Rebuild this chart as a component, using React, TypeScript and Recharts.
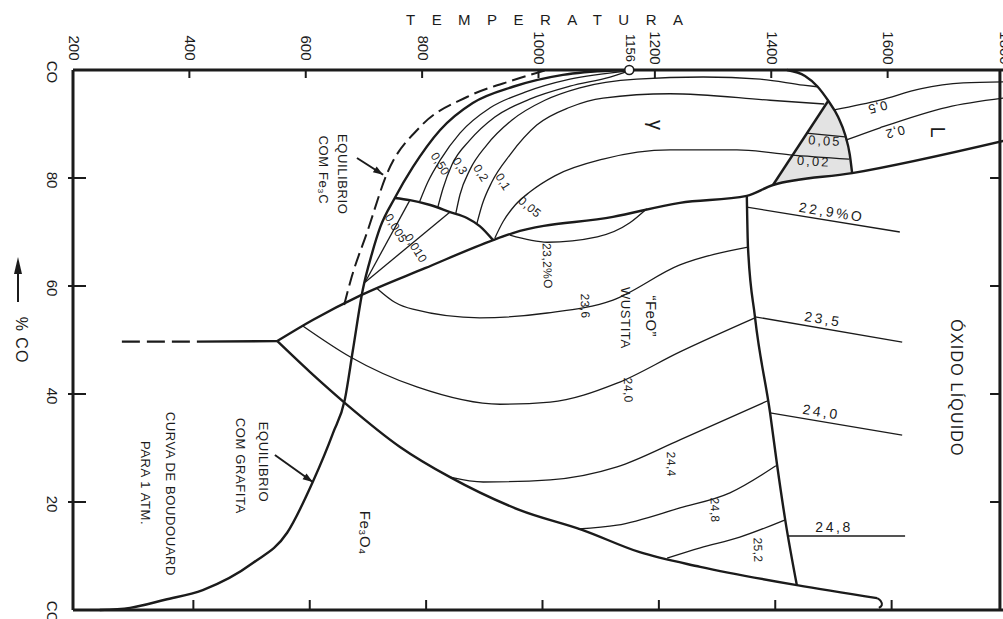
import React from 'react';
import {
  ComposedChart, Line, Area, Scatter, XAxis, YAxis, ReferenceLine, ReferenceDot,
} from 'recharts';

// x = temperature (°C), y = % CO in the CO/CO2 gas
type P = { t: number; co: number };
const pts = (rows: number[][]): P[] => rows.map(([t, co]) => ({ t, co }));

const TOP_TICKS = [200, 400, 600, 800, 1000, 1156, 1200, 1400, 1600, 1800];
const BOTTOM_TICKS = [200, 400, 600, 800, 1000, 1200, 1400, 1600, 1800];
const Y_TICKS = [0, 20, 40, 60, 80, 100];
const RIGHT_TICKS = [20, 40, 60, 80];
const FRAME_RIGHT_T = 1793;
const POINT_1156 = { t: 1156, co: 100 };

// phase boundaries
const BOUDOUARD = pts([[246, 0], [298, 0.4], [358, 1.9], [423, 3.7], [509, 8.7], [568, 14.3], [612, 23.7], [647, 32.8], [667, 38.9], [681, 48.1], [698, 59.3], [714, 66.1], [728, 70.9], [753, 76.3], [784, 82.0], [831, 88.9], [887, 93.9], [956, 96.9], [1042, 99.1], [1128, 99.9], [1156, 100]]);
const FE3C_EQ = pts([[666, 56.5], [679, 61.7], [705, 69.8], [740, 80.9], [796, 89.4], [877, 95.0], [956, 98.1], [1011, 99.9]]);
const FE_FEO = pts([[551, 49.8], [612, 53.7], [695, 58.3], [805, 63.3], [922, 68.5], [956, 69.8], [1128, 72.8], [1243, 75.4], [1358, 76.7], [1403, 78.7], [1539, 80.9], [1800, 86.9]]);
const FE3O4_FEO = pts([[551, 49.8], [607, 44.1], [671, 38.0], [762, 30.2], [848, 24.6], [968, 18.5], [1076, 14.8], [1174, 10.7], [1278, 8.0], [1444, 4.6], [1582, 2.2]]);
const FE3O4_HOOK = pts([[1582, 2.2], [1588, 1.7], [1590, 0.9], [1585, 0.4]]);
const FE3O4_FE = pts([[413, 49.7], [551, 49.8]]);
const FE3O4_FE_EXT = pts([[284, 49.7], [413, 49.7]]);
const FEO_LIQ_OXIDE = pts([[1358, 76.7], [1360, 67.2], [1372, 54.3], [1398, 36.5], [1410, 26.9], [1424, 16.7], [1444, 4.6]]);
const ALPHA_GAMMA = pts([[753, 76.3], [779, 75.9], [814, 75.0], [848, 73.7], [877, 72.6], [899, 71.1], [922, 68.5]]);
const GAMMA_DELTA = pts([[1403, 78.7], [1498, 94.3]]);
const LIQUID_EDGE = pts([[1427, 100], [1458, 98.9], [1479, 97.0], [1498, 94.3], [1515, 91.3], [1527, 88.0], [1535, 84.3], [1539, 80.9]]);
const DELTA_AREA = [
  { t: 1403, range: [78.7, 78.7] }, { t: 1432, range: [79.2, 83.5] }, { t: 1467, range: [79.7, 89.2] },
  { t: 1498, range: [80.3, 94.3] }, { t: 1515, range: [80.5, 91.3] }, { t: 1527, range: [80.7, 88.0] },
  { t: 1535, range: [80.9, 84.3] }, { t: 1539, range: [80.9, 80.9] },
];

// % C iso-lines in alpha / gamma / delta / liquid iron
const ALPHA_005 = pts([[702, 60.7], [779, 75.9]]);
const ALPHA_010 = pts([[702, 60.7], [848, 73.7]]);
const GAMMA_050 = pts([[796, 75.7], [810, 79.3], [831, 83.3], [865, 88.3], [917, 93.0], [977, 95.9], [1054, 98.3], [1152, 99.8]]);
const GAMMA_03 = pts([[827, 74.6], [836, 78.1], [851, 82.4], [882, 87.0], [925, 91.3], [985, 94.6], [1054, 97.0], [1123, 98.7], [1152, 99.7]]);
const GAMMA_02 = pts([[858, 73.5], [865, 76.9], [882, 81.5], [911, 86.1], [954, 90.7], [1011, 94.4], [1071, 96.7], [1169, 98.3], [1283, 98.7], [1381, 98.3], [1455, 97.2], [1479, 96.9]]);
const GAMMA_01 = pts([[894, 71.5], [903, 75.0], [920, 79.3], [951, 84.3], [997, 89.8], [1054, 93.1], [1111, 94.8], [1226, 95.6], [1398, 94.4], [1491, 93.7]]);
const GAMMA_005 = pts([[925, 68.9], [939, 71.9], [960, 75.0], [985, 77.4], [1028, 80.4], [1111, 83.5], [1226, 85.2], [1341, 85.2], [1432, 84.3], [1534, 83.5]]);
const DELTA_005 = pts([[1460, 88.3], [1527, 87.6]]);
const LIQ_05 = pts([[1508, 92.6], [1587, 94.4], [1656, 96.5], [1730, 97.6], [1800, 97.8]]);
const LIQ_02 = pts([[1528, 87.0], [1587, 89.3], [1702, 93.1], [1800, 94.8]]);

// % O iso-lines in wustite and in liquid oxide
const WUS_232 = pts([[951, 69.4], [1015, 68.1], [1101, 69.1], [1157, 71.7], [1186, 74.3]]);
const WUS_236 = pts([[722, 59.6], [753, 57.0], [784, 55.7], [899, 54.1], [1015, 55.0], [1128, 57.4], [1243, 63.9], [1360, 67.2]]);
const WUS_240 = pts([[595, 52.6], [676, 46.9], [791, 41.3], [934, 38.1], [1020, 38.5], [1135, 42.0], [1243, 47.8], [1372, 54.1]]);
const WUS_244 = pts([[848, 24.6], [905, 23.7], [1020, 24.1], [1135, 26.5], [1243, 31.5], [1393, 38.7]]);
const WUS_248 = pts([[1068, 15.0], [1135, 15.7], [1243, 18.9], [1329, 21.7], [1408, 26.7]]);
const WUS_252 = pts([[1221, 9.6], [1278, 11.5], [1346, 13.5], [1424, 16.7]]);
const OX_229 = pts([[1358, 74.6], [1621, 70.0]]);
const OX_235 = pts([[1372, 54.3], [1625, 49.6]]);
const OX_240 = pts([[1398, 36.5], [1625, 32.4]]);
const OX_248 = pts([[1429, 13.7], [1630, 13.7]]);

const ARROW_FE3C = pts([[688, 83.7], [733, 80.6]]);
const ARROW_GRAPHITE = pts([[547, 28.7], [612, 23.7]]);

const LABELS = [
  { t: 664, co: 80.7, text: 'EQUILIBRIO', kind: 'note' },
  { t: 630, co: 81.5, text: 'COM Fe₃C', kind: 'note' },
  { t: 527, co: 27.4, text: 'EQUILIBRIO', kind: 'note' },
  { t: 487, co: 26.7, text: 'COM GRAFITA', kind: 'note' },
  { t: 367, co: 21.5, text: 'CURVA DE BOUDOUARD', kind: 'note' },
  { t: 324, co: 23.5, text: 'PARA 1 ATM.', kind: 'note' },
  { t: 702, co: 14.3, text: 'Fe₃O₄', kind: 'phase' },
  { t: 1195, co: 54.4, text: '“FeO”', kind: 'phase' },
  { t: 1150, co: 54.1, text: 'WUSTITA', kind: 'note' },
  { t: 1202, co: 89.8, text: 'γ', kind: 'greek' },
  { t: 1687, co: 88.5, text: 'L', kind: 'greek' },
  { t: 1719, co: 41.1, text: 'ÓXIDO LÍQUIDO', kind: 'oxide' },
  { t: 1015, co: 63.7, text: '23,2%O', kind: 'wus' },
  { t: 1080, co: 56.3, text: '23,6', kind: 'wus' },
  { t: 1154, co: 40.7, text: '24,0', kind: 'wus' },
  { t: 1228, co: 27.0, text: '24,4', kind: 'wus' },
  { t: 1303, co: 18.5, text: '24,8', kind: 'wus' },
  { t: 1377, co: 11.1, text: '25,2', kind: 'wus' },
  { t: 1504, co: 73.7, text: '22,9%O', kind: 'tie' },
  { t: 1489, co: 53.9, text: '23,5', kind: 'tie' },
  { t: 1486, co: 36.7, text: '24,0', kind: 'tie' },
  { t: 1508, co: 15.4, text: '24,8', kind: 'tieFlat' },
  { t: 1583, co: 93.1, text: '0,5', kind: 'flip' },
  { t: 1613, co: 88.5, text: '0,2', kind: 'flip' },
  { t: 1492, co: 86.9, text: '0,05', kind: 'delta' },
  { t: 1473, co: 83.1, text: '0,02', kind: 'delta' },
  { t: 831, co: 82.6, text: '0,50', kind: 'carbon' },
  { t: 865, co: 82.2, text: '0,3', kind: 'carbon' },
  { t: 901, co: 80.9, text: '0,2', kind: 'carbon' },
  { t: 939, co: 79.3, text: '0,1', kind: 'carbon' },
  { t: 985, co: 74.6, text: '0,05', kind: 'carbonLow' },
  { t: 755, co: 70.7, text: '0,005', kind: 'carbon' },
  { t: 789, co: 67.0, text: '0,010', kind: 'carbon' },
];

const INK = '#1b1b1b';
const FONT = '"Liberation Sans", Arial, sans-serif';
const THICK = 2.4;
const THIN = 1.3;

const LABEL_KINDS: Record<string, { rot: number; size: number; spacing: number }> = {
  note: { rot: 90, size: 13, spacing: 0.6 },
  phase: { rot: 90, size: 15, spacing: 0.5 },
  greek: { rot: 90, size: 20, spacing: 0 },
  oxide: { rot: 90, size: 16, spacing: 1.2 },
  wus: { rot: 88, size: 12, spacing: 0.4 },
  tie: { rot: 9, size: 14, spacing: 2.6 },
  tieFlat: { rot: 0, size: 14, spacing: 2.6 },
  flip: { rot: 165, size: 13, spacing: 0.5 },
  delta: { rot: 3, size: 13, spacing: 2 },
  carbon: { rot: 58, size: 12, spacing: 0.3 },
  carbonLow: { rot: 40, size: 12, spacing: 0.6 },
};

const CURVES = [
  { key: 'boudouard', data: BOUDOUARD, w: THICK },
  { key: 'fe3c', data: FE3C_EQ, w: 2, dash: '14 6' },
  { key: 'fe-feo', data: FE_FEO, w: THICK },
  { key: 'fe3o4-feo', data: FE3O4_FEO, w: THICK },
  { key: 'fe3o4-fe', data: FE3O4_FE, w: THICK },
  { key: 'fe3o4-fe-ext', data: FE3O4_FE_EXT, w: THICK, dash: '18 7' },
  { key: 'feo-liq', data: FEO_LIQ_OXIDE, w: THICK },
  { key: 'alpha-gamma', data: ALPHA_GAMMA, w: THICK },
  { key: 'gamma-delta', data: GAMMA_DELTA, w: THICK },
  { key: 'liquid-edge', data: LIQUID_EDGE, w: THICK },
  { key: 'a005', data: ALPHA_005, w: THIN },
  { key: 'a010', data: ALPHA_010, w: THIN },
  { key: 'g050', data: GAMMA_050, w: THIN },
  { key: 'g03', data: GAMMA_03, w: THIN },
  { key: 'g02', data: GAMMA_02, w: THIN },
  { key: 'g01', data: GAMMA_01, w: THIN },
  { key: 'g005', data: GAMMA_005, w: THIN },
  { key: 'd005', data: DELTA_005, w: THIN },
  { key: 'l05', data: LIQ_05, w: THIN },
  { key: 'l02', data: LIQ_02, w: THIN },
  { key: 'w232', data: WUS_232, w: THIN },
  { key: 'w236', data: WUS_236, w: THIN },
  { key: 'w240', data: WUS_240, w: THIN },
  { key: 'w244', data: WUS_244, w: THIN },
  { key: 'w248', data: WUS_248, w: THIN },
  { key: 'w252', data: WUS_252, w: THIN },
  { key: 'o229', data: OX_229, w: THIN },
  { key: 'o235', data: OX_235, w: THIN },
  { key: 'o240', data: OX_240, w: THIN },
  { key: 'o248', data: OX_248, w: THIN },
];

const ARROWS = [
  { key: 'arrow-fe3c', data: ARROW_FE3C, angle: 33 },
  { key: 'arrow-graphite', data: ARROW_GRAPHITE, angle: 35 },
];

const vText = (x: number, y: number, rot: number) => ({
  x, y, transform: `rotate(${rot} ${x} ${y})`, textAnchor: 'middle' as const,
  dominantBaseline: 'central' as const, fontFamily: FONT, fill: INK,
});

const TopTick = (props: any) => {
  const { x, y, payload } = props;
  const v = payload.value as number;
  const inner = v !== 200 && v !== 1800 && v !== 1156;
  return (
    <g>
      {inner && <line x1={x} y1={y} x2={x} y2={y + 8} stroke={INK} strokeWidth={2} />}
      <text {...vText(x + 1, y - 22, 90)} fontSize={v === 1156 ? 13 : 15}>{v}</text>
    </g>
  );
};

const BottomTick = (props: any) => {
  const { x, y, payload } = props;
  const v = payload.value as number;
  if (v === 200 || v === 1800) return <g />;
  return <line x1={x + 4} y1={y} x2={x + 4} y2={y - 10} stroke={INK} strokeWidth={2} />;
};

const LeftTick = (props: any) => {
  const { x, y, payload } = props;
  const v = payload.value as number;
  const txt = v === 100 ? 'CO' : v === 0 ? 'CO₂' : String(v);
  const ly = v === 0 ? y + 5 : y + 2;
  return (
    <g>
      {v > 0 && v < 100 && <line x1={x - 5} y1={y} x2={x + 13} y2={y} stroke={INK} strokeWidth={2} />}
      <text {...vText(x - 21, ly, 90)} fontSize={15}>{txt}</text>
    </g>
  );
};

const TempTitle = (props: any) => {
  const vb = props.viewBox ?? { x: 73, y: 0 };
  return (
    <text x={vb.x + 333} y={vb.y + 25} textLength={277} lengthAdjust="spacing"
      fontFamily={FONT} fontSize={15} fill={INK}>TEMPERATURA</text>
  );
};

const CoTitle = (props: any) => {
  const vb = props.viewBox ?? { x: 0, y: 70 };
  const ax = vb.x + 18;
  return (
    <g>
      <line x1={ax} y1={vb.y + 232} x2={ax} y2={vb.y + 200} stroke={INK} strokeWidth={2} />
      <polygon points={`${ax},${vb.y + 187} ${ax - 4},${vb.y + 204} ${ax + 4},${vb.y + 204}`} fill={INK} />
      <text {...vText(vb.x + 21, vb.y + 270, 90)} fontSize={16} letterSpacing={1}>% CO</text>
    </g>
  );
};

const LabelMark = (props: any) => {
  const { cx, cy } = props;
  const p = props.payload ?? props;
  const k = LABEL_KINDS[p.kind];
  return (
    <text {...vText(cx, cy, k.rot)} fontSize={k.size} letterSpacing={k.spacing}>{p.text}</text>
  );
};

const arrowHead = (angle: number) => (p: any) => {
  if (p.index !== 1) return <g key={`pt-${p.index}`} />;
  const { cx, cy } = p;
  return (
    <polygon key="head" points={`${cx},${cy} ${cx - 10},${cy - 3.5} ${cx - 10},${cy + 3.5}`}
      fill={INK} transform={`rotate(${angle} ${cx} ${cy})`} />
  );
};

export default function App() {
  return (
    <div style={{ position: 'absolute', left: 0, top: 0, width: 1003, height: 619, overflow: 'hidden', background: '#fff' }}>
      <ComposedChart width={1006} height={619} data={DELTA_AREA} margin={{ top: 0, right: 2, bottom: 0, left: 0 }}>
        <XAxis xAxisId={0} dataKey="t" type="number" orientation="top" domain={[200, 1800]} height={70}
          ticks={TOP_TICKS} interval={0} tick={<TopTick />} tickLine={false} tickSize={0} tickMargin={0}
          axisLine={{ stroke: INK, strokeWidth: 3 }} label={<TempTitle />} />
        <XAxis xAxisId="b" dataKey="t" type="number" orientation="bottom" domain={[200, 1800]} height={9}
          ticks={BOTTOM_TICKS} interval={0} tick={<BottomTick />} tickLine={false} tickSize={0} tickMargin={0}
          axisLine={{ stroke: INK, strokeWidth: 3 }} />
        <YAxis dataKey="co" type="number" domain={[0, 100]} width={73} ticks={Y_TICKS} interval={0}
          tick={<LeftTick />} tickLine={false} tickSize={0} tickMargin={0}
          axisLine={{ stroke: INK, strokeWidth: 3 }} label={<CoTitle />} />

        <Area dataKey="range" type="linear" stroke="none" fill="#e3e3e3" fillOpacity={1}
          dot={false} activeDot={false} isAnimationActive={false} />

        <ReferenceLine x={FRAME_RIGHT_T} stroke={INK} strokeWidth={3} />
        {RIGHT_TICKS.map((v) => (
          <ReferenceLine key={`rt-${v}`} segment={[{ x: FRAME_RIGHT_T - 17, y: v }, { x: FRAME_RIGHT_T, y: v }]}
            stroke={INK} strokeWidth={2} />
        ))}

        {CURVES.map((c) => (
          <Line key={c.key} data={c.data} dataKey="co" type="monotone" stroke={INK} strokeWidth={c.w}
            strokeDasharray={c.dash} dot={false} activeDot={false} isAnimationActive={false} />
        ))}
        <Line data={FE3O4_HOOK} dataKey="co" type="natural" stroke={INK} strokeWidth={2}
          dot={false} activeDot={false} isAnimationActive={false} />
        {ARROWS.map((a) => (
          <Line key={a.key} data={a.data} dataKey="co" type="linear" stroke={INK} strokeWidth={2}
            dot={arrowHead(a.angle)} activeDot={false} isAnimationActive={false} />
        ))}

        <ReferenceDot x={POINT_1156.t} y={POINT_1156.co} r={4.5} fill="#fff" stroke={INK} strokeWidth={1.6} />

        <Scatter data={LABELS} dataKey="co" shape={<LabelMark />} isAnimationActive={false} />
      </ComposedChart>
    </div>
  );
}
